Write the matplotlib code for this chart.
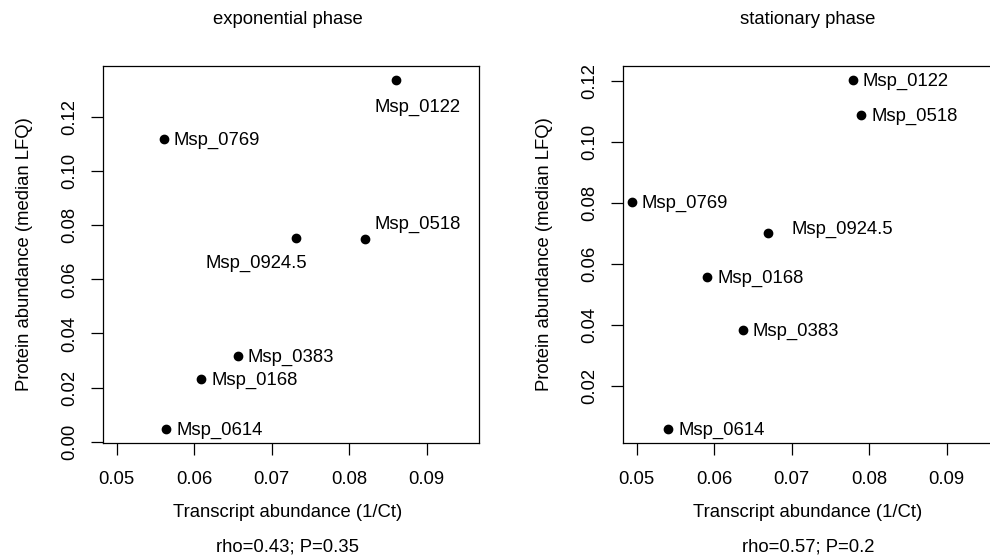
import matplotlib
matplotlib.use("Agg")
from matplotlib import pyplot as plt
import numpy as np

plt.rcParams['font.family'] = ['Liberation Sans', 'DejaVu Sans']
plt.rcParams['font.size'] = 13.3

genes = ['Msp_0122', 'Msp_0769', 'Msp_0924.5', 'Msp_0518',
         'Msp_0383', 'Msp_0168', 'Msp_0614']

# exponential phase
exp_transcript = [0.0860, 0.0561, 0.0732, 0.0821, 0.0656, 0.0609, 0.0564]
exp_protein = [0.1337, 0.1117, 0.0752, 0.0748, 0.0315, 0.0230, 0.0048]

# stationary phase
stat_transcript = [0.0779, 0.0494, 0.0670, 0.0790, 0.0637, 0.0591, 0.0541]
stat_protein = [0.1204, 0.0803, 0.0701, 0.1089, 0.0383, 0.0557, 0.0059]

titles = ['exponential phase', 'stationary phase']
stats = ['rho=0.43; P=0.35', 'rho=0.57; P=0.2']

# label placement: (ha, dx, dy) in pixels from the point
exp_offsets = {
    'Msp_0122': ('center', 22, -25),
    'Msp_0769': ('left', 10, 1),
    'Msp_0924.5': ('center', -40, -23),
    'Msp_0518': ('center', 52, 17),
    'Msp_0383': ('left', 10, 1),
    'Msp_0168': ('left', 10, 1),
    'Msp_0614': ('left', 10, 1),
}
stat_offsets = {g: ('left', 10, 1) for g in genes}
stat_offsets['Msp_0924.5'] = ('left', 23, 6)


def r_lim(lo, hi):
    # R style axis range: 4% extension on both sides
    d = (hi - lo) * 0.04
    return lo - d, hi + d


W, H = 990, 559
fig = plt.figure(figsize=(W / 100, H / 100), dpi=100)

panels = [
    (exp_transcript, exp_protein, exp_offsets, 102.7),
    (stat_transcript, stat_protein, stat_offsets, 622.7),
]

for i, (tx, pr, offs, left) in enumerate(panels):
    ax = fig.add_axes([left / W, 1 - 442.7 / H, 376.6 / W, 376.7 / H])
    ax.plot(tx, pr, 'o', color='black', ms=6, clip_on=False)
    for g, x, y in zip(genes, tx, pr):
        ha, dx, dy = offs[g]
        ax.annotate(g, (x, y), xytext=(dx, dy - 6.6), textcoords='offset pixels',
                    ha=ha, va='baseline', fontsize=13.3)

    ax.set_xlim(*r_lim(0.05, 0.095))
    ylo, yhi = r_lim(min(pr), max(pr))
    ax.set_ylim(ylo, yhi)
    ax.set_xticks(np.arange(0.05, 0.0951, 0.01))
    yt = [v for v in np.arange(0.0, 0.141, 0.02) if ylo <= v <= yhi]
    ax.set_yticks(yt)
    ax.xaxis.set_major_formatter(matplotlib.ticker.FormatStrFormatter('%.2f'))
    ax.yaxis.set_major_formatter(matplotlib.ticker.FormatStrFormatter('%.2f'))
    ax.tick_params(direction='out', length=8.6, width=0.9, labelsize=13.3)
    ax.tick_params(axis='x', pad=11.5)
    ax.tick_params(axis='y', pad=9)
    for lab in ax.get_yticklabels():
        lab.set_rotation(90)
        lab.set_va('center')
    for s in ax.spines.values():
        s.set_linewidth(0.9)

    off = i * 520
    fig.text((288 + off) / W, 1 - 24 / H, titles[i], ha='center', va='baseline')
    fig.text((288 + off) / W, 1 - 517 / H, 'Transcript abundance (1/Ct)',
             ha='center', va='baseline')
    fig.text((288 + off) / W, 1 - 552 / H, stats[i], ha='center', va='baseline')
    fig.text((24.5 + off) / W, 1 - 254.4 / H, 'Protein abundance (median LFQ)',
             rotation=90, ha='center', va='center')

fig.savefig('out.png', dpi=100)
